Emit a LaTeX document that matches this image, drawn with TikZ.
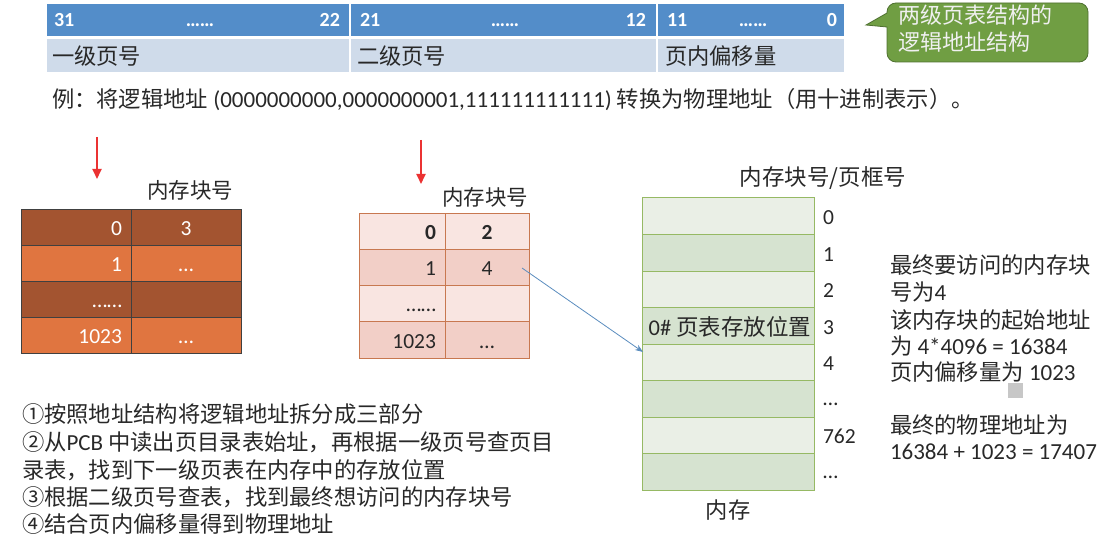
\documentclass[tikz,border=0pt]{standalone}
\usepackage{fontspec}
\setmainfont{Carlito}
\newfontfamily\cjk{Noto Sans CJK SC}
\usetikzlibrary{arrows.meta}
\definecolor{barblue}{RGB}{83,141,201}
\definecolor{barlight}{RGB}{207,219,234}
\definecolor{calgreen}{RGB}{112,158,67}
\definecolor{calborder}{RGB}{78,112,48}
\definecolor{caltext}{RGB}{240,240,240}
\definecolor{tonedark}{RGB}{163,84,48}
\definecolor{tonelight}{RGB}{224,117,64}
\definecolor{pinklight}{RGB}{249,229,225}
\definecolor{pinkdark}{RGB}{242,207,199}
\definecolor{pinkborder}{RGB}{200,120,80}
\definecolor{memlight}{RGB}{234,239,230}
\definecolor{memdark}{RGB}{214,227,208}
\definecolor{memborder}{RGB}{150,185,100}
\definecolor{arrblue}{RGB}{90,140,190}
\definecolor{arrred}{RGB}{235,50,50}
\definecolor{txtgray}{RGB}{40,40,40}
\begin{document}
\begin{tikzpicture}[x=1pt,y=-1pt,
  every node/.style={inner sep=0pt,outer sep=0pt},
  barcell/.style={draw=white,line width=1.2pt,anchor=north west,minimum height=#1},
  numw/.style={text=white,font=\bfseries\fontsize{20}{24}\selectfont},
  cjkt/.style={text=txtgray,font=\cjk\fontsize{22.3}{26}\selectfont},
  latt/.style={text=txtgray,font=\fontsize{23}{27}\selectfont},
  tone/.style={draw=black!75,line width=0.8pt,anchor=north west,minimum height=36pt},
  pinkcell/.style={draw=pinkborder,line width=1pt,anchor=north west,minimum height=36.25pt},
  memcell/.style={draw=memborder,line width=1pt,anchor=north west,minimum width=172pt,minimum height=36.5pt},
  wtxt/.style={text=white,font=\fontsize{21.5}{25}\selectfont},
  btxt/.style={text=txtgray,font=\fontsize{21.5}{25}\selectfont},
  redarr/.style={draw=arrred,line width=1.8pt,-{Triangle[length=10pt,width=9pt]}},
]
\useasboundingbox (0,0) rectangle (1097,540);

% ---- top address bar
\node[barcell=34pt,fill=barblue,minimum width=304pt] (b1) at (46,3) {};
\node[barcell=34pt,fill=barblue,minimum width=307pt] (b2) at (350,3) {};
\node[barcell=34pt,fill=barblue,minimum width=188pt] (b3) at (657,3) {};
\node[barcell=35pt,fill=barlight,minimum width=304pt] (c1) at (46,38) {};
\node[barcell=35pt,fill=barlight,minimum width=307pt] (c2) at (350,38) {};
\node[barcell=35pt,fill=barlight,minimum width=188pt] (c3) at (657,38) {};
\node[numw,anchor=base west] (n31) at (54,27) {31};
\node[numw,anchor=base] (d1) at (200,27) {……};
\node[numw,anchor=base east] (n22) at (340,27) {22};
\node[numw,anchor=base west] (n21) at (360,27) {21};
\node[numw,anchor=base] (d2) at (505,27) {……};
\node[numw,anchor=base east] (n12) at (646,27) {12};
\node[numw,anchor=base west] (n11) at (667,27) {11};
\node[numw,anchor=base] (d3) at (753,27) {……};
\node[numw,anchor=base east] (n0) at (837,27) {0};
\node[cjkt,anchor=west] (lab1) at (52,56) {一级页号};
\node[cjkt,anchor=west] (lab2) at (357,56) {二级页号};
\node[cjkt,anchor=west] (lab3) at (665,56) {页内偏移量};

% ---- callout
\draw[fill=calgreen,draw=calborder,line width=0.8pt]
  (887,27) [rounded corners=9pt] -- (887,62) -- (1088,62) -- (1088,3) -- (887,3) [sharp corners] -- (887,13) -- (866,25) -- cycle;
\node[anchor=north west,align=left,text=caltext,font=\cjk\fontsize{22}{27}\selectfont] (call) at (898,5) {两级页表结构的\\逻辑地址结构};

% ---- example line
\node[latt,anchor=west] (ex) at (52,100) {{\cjk\fontsize{22.3}{26}\selectfont 例：将逻辑地址} (0000000000,0000000001,111111111111) {\cjk\fontsize{22.3}{26}\selectfont 转换为物理地址（用十进制表示）。}};

% ---- red arrows
\coordinate (ra1) at (97,137); \coordinate (rb1) at (97,179);
\coordinate (ra2) at (421,140); \coordinate (rb2) at (421,184);
\draw[redarr] (ra1) -- (rb1);
\draw[redarr] (ra2) -- (rb2);

% ---- table 1 (page directory)
\node[cjkt,font=\cjk\fontsize{21.5}{25}\selectfont,anchor=center] (t1lab) at (190,190) {内存块号};
\foreach \r/\c in {0/tonedark,1/tonelight,2/tonedark,3/tonelight}{
  \node[tone,fill=\c,minimum width=110pt] (t1a\r) at (21,209+36*\r) {};
  \node[tone,fill=\c,minimum width=110pt] (t1b\r) at (131,209+36*\r) {};
}
\node[wtxt,anchor=base east] (t1a0t) at (122,235) {0};
\node[wtxt,anchor=base] (t1b0t) at (186,235) {3};
\node[wtxt,anchor=base east] (t1a1t) at (122,271) {1};
\node[wtxt,anchor=base] (t1b1t) at (186,271) {…};
\node[wtxt,anchor=base east] (t1a2t) at (122,307) {……};
\node[wtxt,anchor=base east] (t1a3t) at (122,343) {1023};
\node[wtxt,anchor=base] (t1b3t) at (186,343) {…};

% ---- table 2 (page table)
\node[cjkt,font=\cjk\fontsize{21.5}{25}\selectfont,anchor=center] (t2lab) at (485,197) {内存块号};
\foreach \r/\c in {0/pinklight,1/pinkdark,2/pinklight,3/pinkdark}{
  \node[pinkcell,fill=\c,minimum width=86pt] (t2a\r) at (359,213+36.25*\r) {};
  \node[pinkcell,fill=\c,minimum width=84pt] (t2b\r) at (445,213+36.25*\r) {};
}
\node[btxt,font=\bfseries\fontsize{21.5}{25}\selectfont,anchor=base east] (t2a0t) at (436,239) {0};
\node[btxt,font=\bfseries\fontsize{21.5}{25}\selectfont,anchor=base] (t2b0t) at (487,239) {2};
\node[btxt,anchor=base east] (t2a1t) at (436,275) {1};
\node[btxt,anchor=base] (t2b1t) at (487,275) {4};
\node[btxt,anchor=base east] (t2a2t) at (436,311) {……};
\node[btxt,anchor=base east] (t2a3t) at (436,348) {1023};
\node[btxt,anchor=base] (t2b3t) at (487,348) {…};

% ---- memory
\node[cjkt,font=\cjk\fontsize{22.5}{26}\selectfont,anchor=center] (memtop) at (823,178) {内存块号/页框号};
\foreach \r/\c in {0/memlight,1/memdark,2/memlight,3/memdark,4/memlight,5/memdark,6/memlight,7/memdark}{
  \node[memcell,fill=\c] (m\r) at (642,198+36.5*\r) {};
}
\node[latt,font=\fontsize{22.5}{26}\selectfont,anchor=center] (m3t) at (730,327) {0\# {\cjk 页表存放位置}};
\node[btxt,anchor=base west] (ml0) at (823,224) {0};
\node[btxt,anchor=base west] (ml1) at (823,261) {1};
\node[btxt,anchor=base west] (ml2) at (823,297) {2};
\node[btxt,anchor=base west] (ml3) at (823,334) {3};
\node[btxt,anchor=base west] (ml4) at (823,370) {4};
\node[btxt,anchor=base west] (ml5) at (823,405) {…};
\node[btxt,anchor=base west] (ml6) at (823,443) {762};
\node[btxt,anchor=base west] (ml7) at (823,478) {…};
\node[cjkt,anchor=center] (membot) at (728,510) {内存};

% ---- connector from page table entry to frame 4
\coordinate (as) at (522,268);
\coordinate (ae) at (643,352);
\draw[arrblue,line width=0.8pt,-{Stealth[length=8pt,width=6pt]}] (as) -- (ae);

% ---- right explanation
\node[cjkt,anchor=west] (r1) at (890,265) {最终要访问的内存块};
\node[cjkt,anchor=west] (r2) at (890,292) {号为{\fontspec{Carlito}\fontsize{23}{27}\selectfont 4}};
\node[cjkt,anchor=west] (r3) at (890,320) {该内存块的起始地址};
\node[latt,anchor=west] (r4) at (890,346) {{\cjk\fontsize{22.3}{26}\selectfont 为} 4*4096 = 16384};
\node[latt,anchor=west] (r5) at (890,372) {{\cjk\fontsize{22.3}{26}\selectfont 页内偏移量为} 1023};
\node[fill=black!22,minimum width=15pt,minimum height=15pt] (sq) at (1015,390) {};
\node[cjkt,anchor=west] (r6) at (890,425) {最终的物理地址为};
\node[latt,anchor=west] (r7) at (890,452) {16384 + 1023 = 17407};

% ---- steps
\node[cjkt,anchor=west] (s1) at (22,414) {①按照地址结构将逻辑地址拆分成三部分};
\node[cjkt,anchor=west] (s2) at (22,442) {②从{\fontspec{Carlito}\fontsize{23}{27}\selectfont PCB} 中读出页目录表始址，再根据一级页号查页目};
\node[cjkt,anchor=west] (s3) at (22,470) {录表，找到下一级页表在内存中的存放位置};
\node[cjkt,anchor=west] (s4) at (22,497) {③根据二级页号查表，找到最终想访问的内存块号};
\node[cjkt,anchor=west] (s5) at (22,524) {④结合页内偏移量得到物理地址};
\end{tikzpicture}
\end{document}
